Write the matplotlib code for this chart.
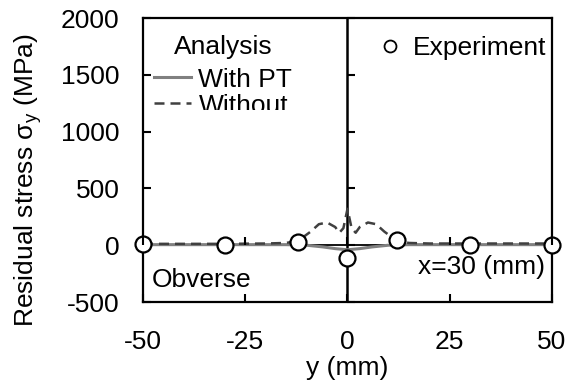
import matplotlib
matplotlib.use("Agg")
import matplotlib.pyplot as plt
from matplotlib.transforms import Bbox, TransformedBbox
from matplotlib.lines import Line2D

plt.rcParams['font.family'] = ['Liberation Sans', 'DejaVu Sans']
plt.rcParams['axes.unicode_minus'] = False

# Experiment
exp_y = [-50, -30, -12, 0, 12, 30, 50]
exp_s = [10, 5, 25, -115, 45, 5, 5]

# Analysis with PT
pt_y = [-50, -30, -15, -10, -6, -3, 0, 3, 6, 10, 15, 30, 50]
pt_s = [5, 5, 5, 0, -15, -30, -40, -30, -15, 0, 5, 5, 5]

# Analysis without PT
wo_y = [-50, -40, -30, -20, -15, -12, -9, -7, -5, -3, -2, -1, 0, 1, 2, 3, 5, 7, 9, 12, 15, 20, 30, 40, 50]
wo_s = [12, 12, 12, 15, 20, 40, 120, 185, 200, 160, 110, 150, 320, 150, 110, 160, 200, 185, 120, 40, 20, 15, 15, 15, 15]

xticks = [-50, -25, 0, 25, 50]
yticks = [-500, 0, 500, 1000, 1500, 2000]

fig = plt.figure(figsize=(5.72, 3.81), dpi=100)
ax = fig.add_axes([0.25, 0.2073, 0.715, 0.7454])
FS = 19

ax.plot(pt_y, pt_s, color='#808080', lw=2.2, label='With PT', zorder=3)
ax.plot(wo_y, wo_s, color='#404040', lw=1.8, ls=(0, (4, 2.4)), label='Without', zorder=3)
ax.axhline(0, color='black', lw=1.3, zorder=2)
ax.axvline(0, color='black', lw=1.8, zorder=2)
ax.plot(exp_y, exp_s, ls='none', marker='o', ms=11.5, mfc='white', mec='black', mew=1.6,
        zorder=5, clip_on=False)

ax.set_xlim(-50, 50)
ax.set_ylim(-500, 2000)
ax.set_xticks(xticks)
ax.set_yticks(yticks)
ax.tick_params(direction='in', length=6, width=1.5, labelsize=FS)
ax.tick_params(axis='x', pad=20)
ax.tick_params(axis='y', pad=17)
for s in ax.spines.values():
    s.set_linewidth(1.6)
ax.set_xlabel('y (mm)', fontsize=FS)
ax.xaxis.set_label_coords(0.5, -0.19)
ax.set_ylabel('Residual stress σ$_\\mathregular{y}$ (MPa)', fontsize=FS)
ax.yaxis.set_label_coords(-0.242, 0.43)

# ticks on zero lines
ax2 = fig.add_axes(ax.get_position(), sharex=ax, sharey=ax)
ax2.patch.set_visible(False)
for side in ('top', 'right', 'left', 'bottom'):
    ax2.spines[side].set_visible(False)
ax2.spines['left'].set_position(('data', 0))
ax2.spines['bottom'].set_position(('data', 0))
ax2.tick_params(direction='in', length=6, width=1.5, labelleft=False, labelbottom=False)

handles = [Line2D([], [], color='#808080', lw=2.2),
           Line2D([], [], color='#404040', lw=1.8, ls=(0, (4, 2.4)))]
leg = ax2.legend(handles, ['With PT', 'Without'], title='Analysis', loc='upper left',
                 bbox_to_anchor=(0.0, 0.979), frameon=False, fontsize=FS, title_fontsize=FS,
                 handlelength=1.4, handletextpad=0.3, labelspacing=0.08, borderaxespad=0.0,
                 borderpad=0.4)
leg._legend_box.sep = 6.5
clip = TransformedBbox(Bbox([[0.0, 0.676], [0.5, 1.0]]), ax2.transAxes)
for a in leg.get_texts() + leg.get_lines() + [leg.get_title()]:
    a.set_clip_box(clip)
    a.set_clip_on(True)

h2 = [Line2D([], [], ls='none', marker='o', ms=8.6, mfc='white', mec='black', mew=1.3)]
ax.legend(h2, ['Experiment'], loc='upper right', bbox_to_anchor=(1.005, 0.965), frameon=False,
          fontsize=FS, handletextpad=0.35, borderaxespad=0.0, borderpad=0.3, handlelength=1.0)

ax.text(0.022, 0.077, 'Obverse', transform=ax.transAxes, fontsize=FS, ha='left', va='center')
ax.text(0.983, 0.123, 'x=30 (mm)', transform=ax.transAxes, fontsize=FS, ha='right', va='center')

fig.savefig('out.png', dpi=100)
